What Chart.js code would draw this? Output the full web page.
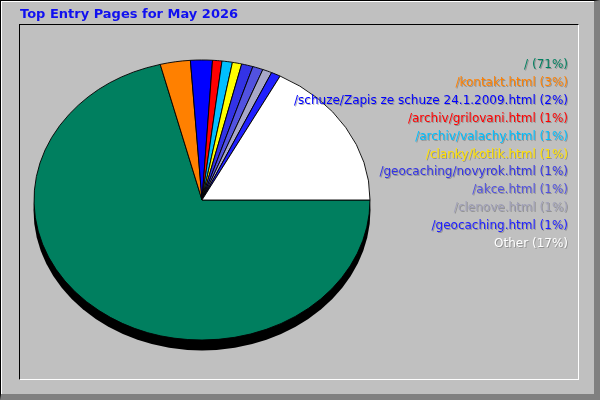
<!DOCTYPE html>
<html>
<head>
<meta charset="utf-8">
<script src="https://cdn.jsdelivr.net/npm/chart.js@4/dist/chart.umd.min.js"></script>
<style>
  html, body { margin: 0; padding: 0; background: #C0C0C0; }
  #frame {
    position: absolute; left: 0; top: 0; width: 600px; height: 400px;
    box-sizing: border-box; background: #C0C0C0;
    border-left: 1px solid #000; border-top: 1px solid #000;
    border-right: 6px solid #808080; border-bottom: 6px solid #808080;
    box-shadow: inset 1px 1px 0 #fff;
  }
  #inner {
    position: absolute; left: 19px; top: 24px; width: 560px; height: 356px;
    box-sizing: border-box;
    border-left: 1px solid #000; border-top: 1px solid #000;
    border-right: 1px solid #fff; border-bottom: 1px solid #fff;
  }
  #chart { position: absolute; left: 0; top: 0; }
  #title {
    position: absolute; left: 20px; top: 6px;
    font: bold 13px "DejaVu Sans", sans-serif; color: #1010F0;
  }
  #legend {
    position: absolute; right: 32px; top: 56px; text-align: right;
    font: 12px "DejaVu Sans", sans-serif; line-height: 17.9px;
    text-shadow: 1px 1px 0 rgba(80, 80, 80, 0.4);
    white-space: nowrap;
  }
</style>
</head>
<body>
<div id="frame"></div>
<div id="inner"></div>
<canvas id="chart" width="600" height="400"></canvas>
<div id="title">Top Entry Pages for May 2026</div>
<div id="legend"></div>

<script>
/* ── Data ─────────────────────────────────────────────── */
const pages = [
  '/', '/kontakt.html', '/schuze/Zapis ze schuze 24.1.2009.html',
  '/archiv/grilovani.html', '/archiv/valachy.html', '/clanky/kotlik.html',
  '/geocaching/novyrok.html', '/akce.html', '/clenove.html',
  '/geocaching.html', 'Other'
];
const shares = [71.0, 2.9, 2.1, 0.9, 1.0, 0.9, 1.1, 1.0, 0.9, 0.9, 17.3];
const sliceColors = [
  '#007F5F', '#FF8000', '#0000FF', '#FF0000', '#00BFFF', '#FFFF00',
  '#3333E6', '#5252E0', '#A8A8C8', '#2020FF', '#FFFFFF'
];
const textColors = [
  '#007F5F', '#FF8000', '#0000FF', '#FF0000', '#00BFFF', '#FFE000',
  '#3333E6', '#5252E0', '#A0A0B8', '#2020FF', '#FFFFFF'
];

/* ── Legend (html, from the same arrays) ───────────────── */
const total = shares.reduce((a, b) => a + b, 0);
document.getElementById('legend').innerHTML = pages.map((p, i) =>
  `<div style="color:${textColors[i]}">${p} (${Math.round(shares[i] / total * 100)}%)</div>`
).join('');

/* ── Squash pie into an ellipse + drop shadow ──────────── */
const YSCALE = 140 / 168;
const SHADOW = 10;

const ellipsePie = {
  id: 'ellipsePie',
  beforeDatasetsDraw(chart) {
    const arc = chart.getDatasetMeta(0).data[0];
    if (!arc) return;
    const { x, y, outerRadius } = arc;
    const ctx = chart.ctx;
    ctx.save();
    ctx.translate(x, y);
    ctx.scale(1, YSCALE);
    ctx.translate(-x, -y);
    // black depth under the pie
    ctx.beginPath();
    ctx.arc(x, y + SHADOW / YSCALE, outerRadius + 0.5, 0, Math.PI * 2);
    ctx.fillStyle = '#000';
    ctx.fill();
  },
  afterDatasetsDraw(chart) {
    chart.ctx.restore();
  }
};

new Chart(document.getElementById('chart'), {
  type: 'pie',
  data: {
    labels: pages,
    datasets: [{
      data: shares,
      backgroundColor: sliceColors,
      borderColor: '#000',
      borderWidth: 1,
      clip: false
    }]
  },
  options: {
    responsive: false,
    animation: false,
    rotation: 90,
    radius: 168,
    layout: { padding: { left: 34, top: 30, right: 230, bottom: 30 } },
    plugins: {
      legend: { display: false },
      tooltip: { enabled: false }
    },
    events: []
  },
  plugins: [ellipsePie]
});
</script>
</body>
</html>
